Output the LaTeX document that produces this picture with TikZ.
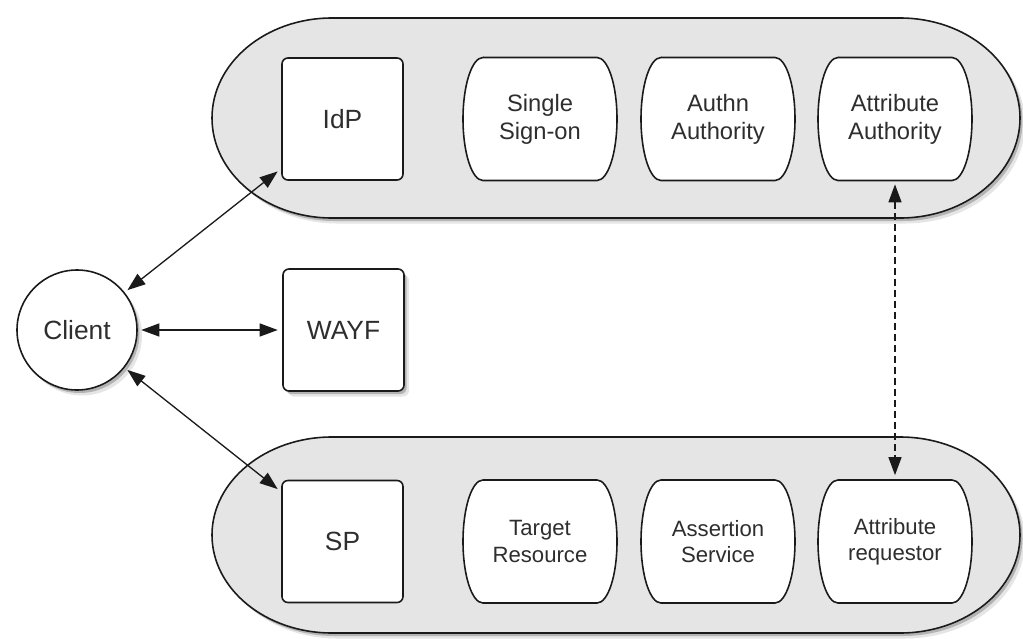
\documentclass[tikz,border=0pt]{standalone}
\usepackage{fontspec}
\setmainfont{Liberation Sans}
\usetikzlibrary{arrows.meta,shadows}
\definecolor{ink}{HTML}{1A1A1A}
\definecolor{txt}{HTML}{2E2E2E}
\definecolor{pillgray}{HTML}{E5E5E5}
\tikzset{
  soft/.style={drop shadow={shadow xshift=1.0mm, shadow yshift=-1.1mm, fill=black, opacity=0.10},
               drop shadow={shadow xshift=0.5mm, shadow yshift=-0.6mm, fill=black, opacity=0.22}},
  pill/.style={draw=ink, fill=pillgray, line width=0.9pt, soft},
  box/.style={draw=ink, fill=white, line width=0.9pt, rounded corners=1.2mm,
              minimum width=24.2mm, minimum height=24.4mm, text=txt,
              font=\fontsize{15}{18}\selectfont},
  svc/.style={minimum width=22.8mm, minimum height=24.6mm, align=center, text=txt},
  svcline/.style={draw=ink, fill=white, line width=0.9pt},
  link/.style={draw=ink, line width=0.75pt,
               {Triangle[length=3.6mm,width=2.6mm]}-{Triangle[length=3.6mm,width=2.6mm]},
               shorten <=0.7mm, shorten >=0.9mm},
  ask/.style={link, dash pattern=on 1.3mm off 0.9mm},
}
\begin{document}
\begin{tikzpicture}[x=0.2mm, y=0.2mm]
  \useasboundingbox (0,0) rectangle (1023,638);
  % IdP side and SP side
  \draw[pill] (332,620) -- (900,620)
    arc[start angle=90, end angle=-90, x radius=24mm, y radius=20mm] -- (332,420)
    arc[start angle=270, end angle=90, x radius=24mm, y radius=20mm] -- cycle;
  \draw[pill] (332,201) -- (900,201)
    arc[start angle=90, end angle=-90, x radius=24mm, y radius=19.6mm] -- (332,5)
    arc[start angle=270, end angle=90, x radius=24mm, y radius=19.6mm] -- cycle;
  % services
  \foreach \n/\x/\y/\t in {sso/540/519/{Single\\Sign-on}, authn/718/519/{Authn\\Authority},
      aa/895/519/{Attribute\\Authority}} {
    \draw[svcline] (\x-57,\y+61.5) -- (\x+57,\y+61.5)
      arc[start angle=90, end angle=-90, x radius=4mm, y radius=12.3mm] -- (\x-57,\y-61.5)
      arc[start angle=270, end angle=90, x radius=4mm, y radius=12.3mm] -- cycle;
    \node[svc, font=\fontsize{13.5}{16}\selectfont] (\n) at (\x,\y) {\t};
  }
  \foreach \n/\x/\y/\t in {target/540/96.5/{Target\\Resource}, assert/718/96.5/{Assertion\\Service},
      ar/895/96.5/{Attribute\\requestor}} {
    \draw[svcline] (\x-57,\y+61.5) -- (\x+57,\y+61.5)
      arc[start angle=90, end angle=-90, x radius=4mm, y radius=12.3mm] -- (\x-57,\y-61.5)
      arc[start angle=270, end angle=90, x radius=4mm, y radius=12.3mm] -- cycle;
    \node[svc, font=\fontsize{12.6}{15}\selectfont] (\n) at (\x,\y) {\t};
  }
  \node[box] (idp) at (342.5,519) {IdP};
  \node[box, soft] (wayf) at (343.5,308) {WAYF};
  \node[box] (sp) at (342.5,96.5) {SP};
  \node[circle, draw=ink, fill=white, line width=0.9pt, minimum size=24mm, soft,
        text=txt, font=\fontsize{15}{18}\selectfont] (client) at (77,308) {Client};
  \draw[link] (client) -- (wayf);
  \draw[link] (client) -- (idp.219);
  \draw[link] (client) -- (sp.141);
  \draw[ask] (aa) -- (ar);
\end{tikzpicture}
\end{document}
